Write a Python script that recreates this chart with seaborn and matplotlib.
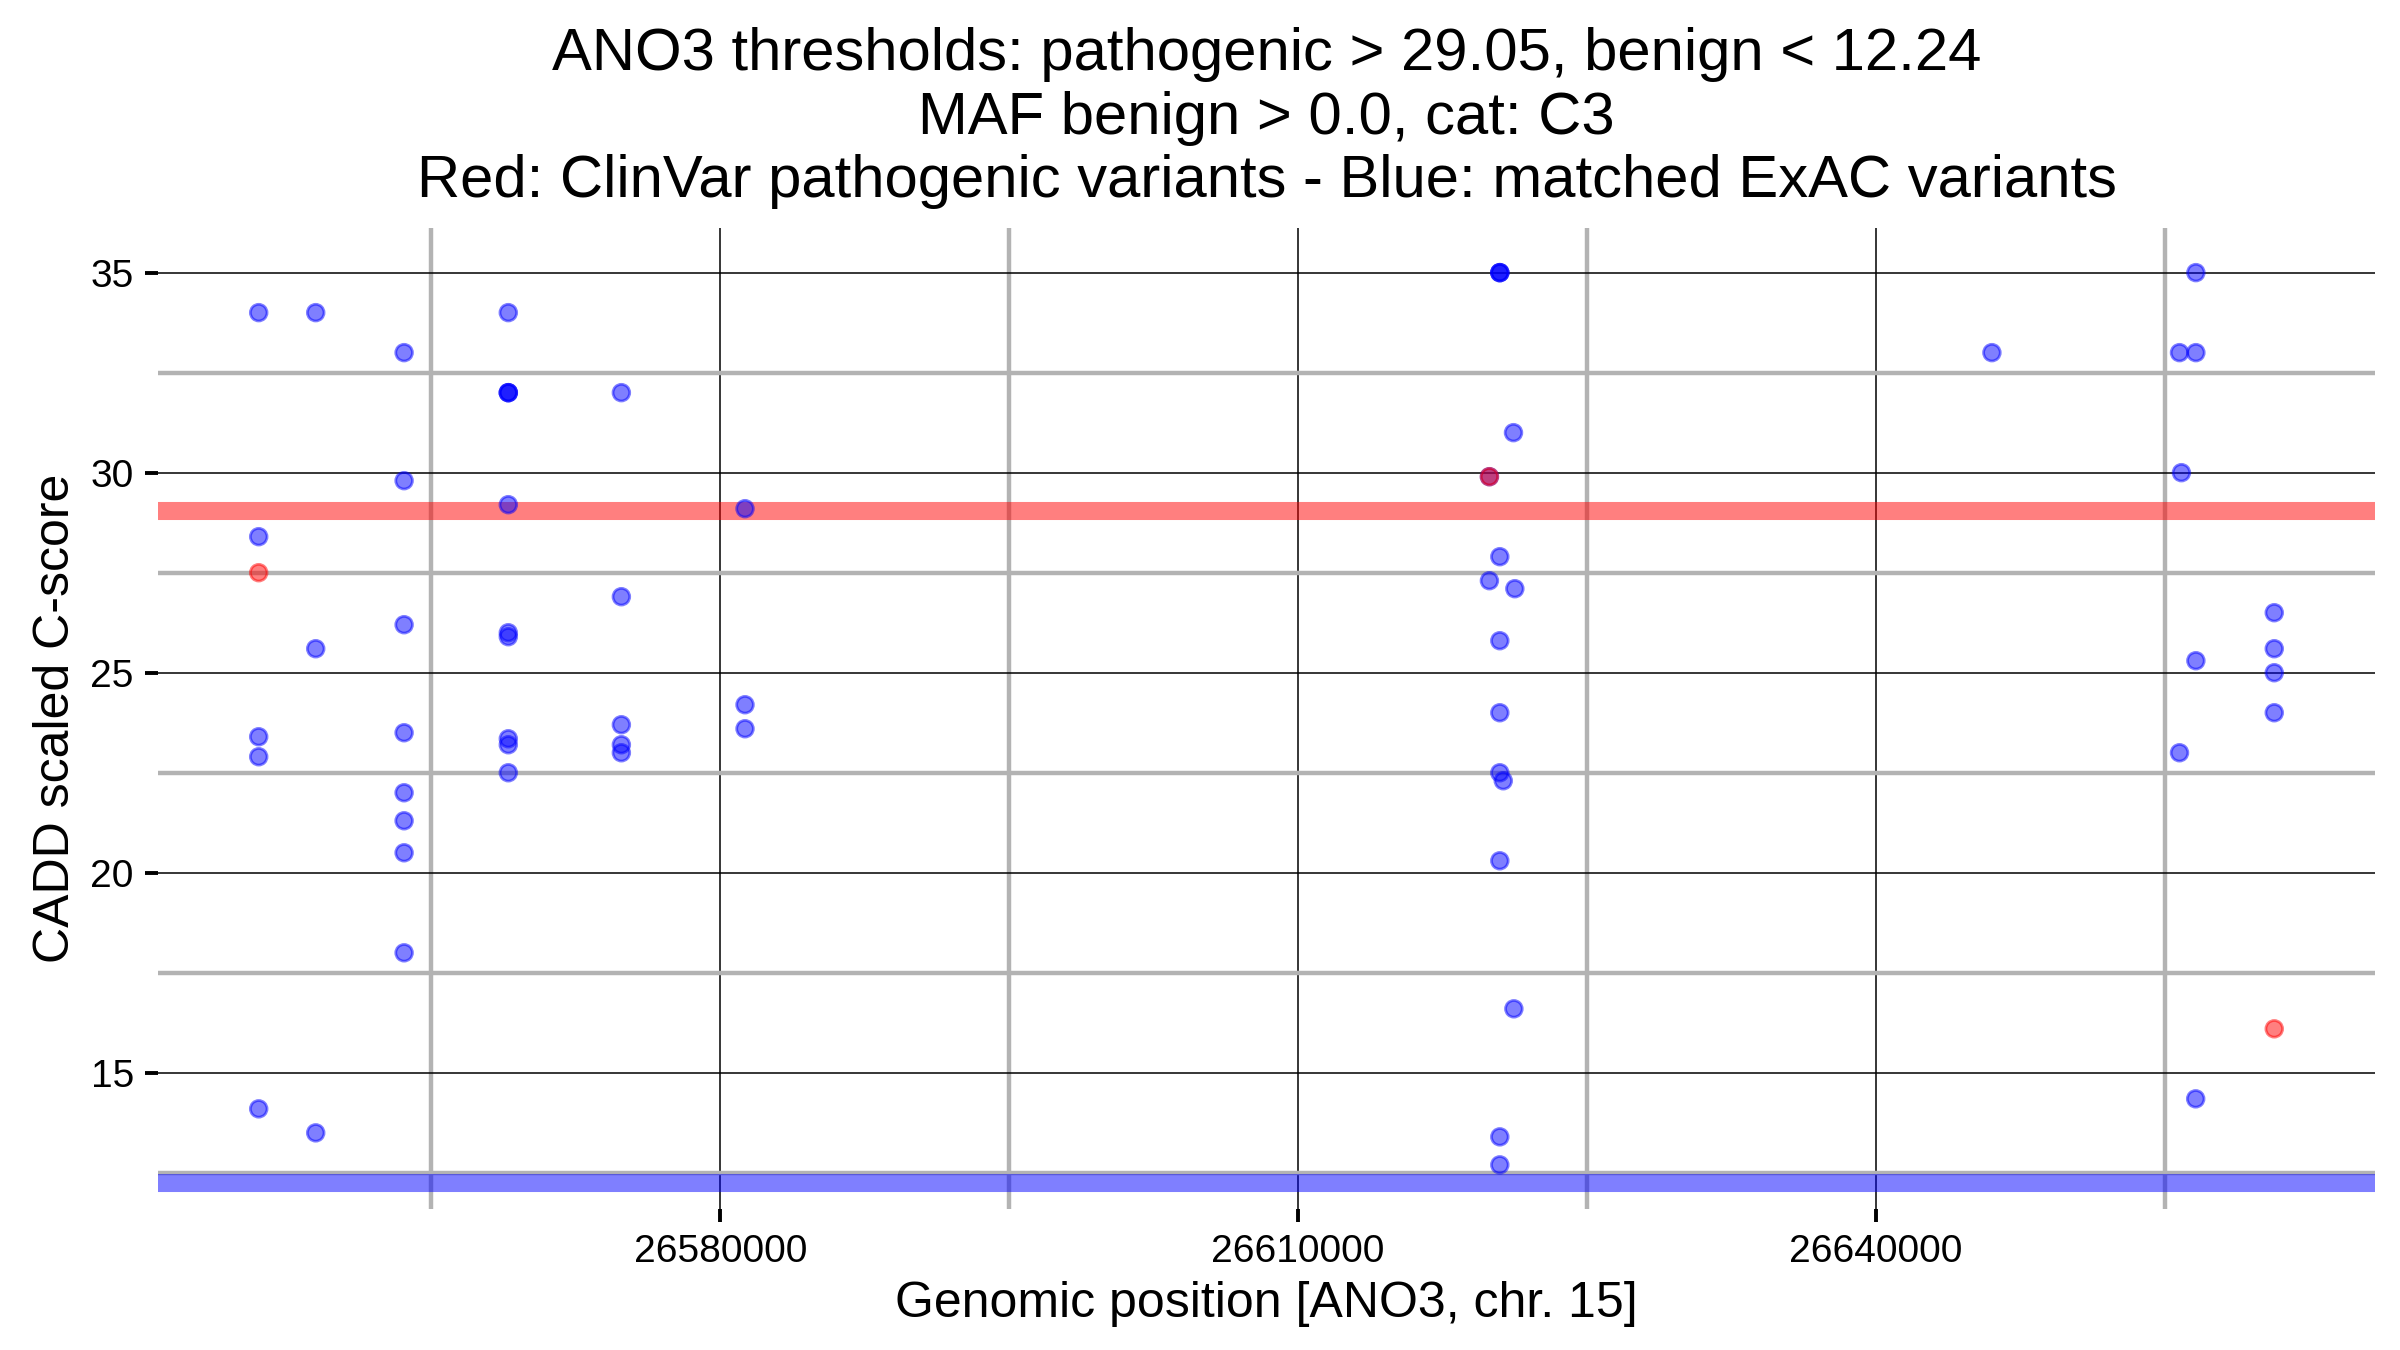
import pandas as pd
import seaborn as sns
import matplotlib.pyplot as plt
from matplotlib.ticker import MultipleLocator, AutoMinorLocator

sns.set_theme(style="white")
plt.rcParams["font.family"] = ["Liberation Sans", "DejaVu Sans"]
plt.rcParams["text.color"] = "black"
plt.rcParams["axes.labelcolor"] = "black"
plt.rcParams["xtick.color"] = "black"
plt.rcParams["ytick.color"] = "black"

gene = "ANO3"
chrom = "15"
path_thr = 29.05
benign_thr = 12.24

# matched ExAC variants (blue)
exac_pos = [
    26556030, 26556030, 26556030, 26556030, 26556030,
    26558990, 26558990, 26558990,
    26563580, 26563580, 26563580, 26563580, 26563580, 26563580, 26563580, 26563580,
    26568990, 26568990, 26568990, 26568990, 26568990, 26568990, 26568990, 26568990, 26568990, 26568990,
    26574860, 26574860, 26574860, 26574860, 26574860,
    26581280, 26581280, 26581280,
    26620470, 26620470, 26620470, 26621180, 26619930, 26620470, 26619930, 26621250,
    26620470, 26620470, 26620470, 26620650, 26620470, 26621200, 26620470, 26620470,
    26646020,
    26656610, 26656610, 26656610, 26656600,
    26655760, 26655760,
    26655860,
    26660680, 26660680, 26660680, 26660680,
]
exac_cadd = [
    34.0, 28.4, 23.4, 22.9, 14.1,
    34.0, 25.6, 13.5,
    33.0, 29.8, 26.2, 23.5, 22.0, 21.3, 20.5, 18.0,
    34.0, 32.0, 32.0, 32.0, 29.2, 26.0, 25.9, 23.35, 23.2, 22.5,
    32.0, 26.9, 23.7, 23.2, 23.0,
    29.1, 24.2, 23.6,
    35.0, 35.0, 35.0, 31.0, 29.9, 27.9, 27.3, 27.1,
    25.8, 24.0, 22.5, 22.3, 20.3, 16.6, 13.4, 12.7,
    33.0,
    35.0, 33.0, 25.3, 14.35,
    33.0, 23.0,
    30.0,
    26.5, 25.6, 25.0, 24.0,
]

# ClinVar pathogenic variants (red)
clinvar_pos = [26556030, 26619930, 26660680]
clinvar_cadd = [27.5, 29.9, 16.1]

df = pd.concat([
    pd.DataFrame({"pos": exac_pos, "cadd": exac_cadd, "source": "ExAC"}),
    pd.DataFrame({"pos": clinvar_pos, "cadd": clinvar_cadd, "source": "ClinVar"}),
], ignore_index=True)

fig, ax = plt.subplots(figsize=(12, 6.75), dpi=200)
fig.subplots_adjust(left=0.0658, right=0.9896, top=0.8311, bottom=0.1041)

sns.scatterplot(
    data=df, x="pos", y="cadd", hue="source",
    palette={"ExAC": "blue", "ClinVar": "red"},
    alpha=0.5, s=36, edgecolor="face", linewidth=1,
    legend=False, ax=ax, zorder=3,
)

ax.axhline(path_thr, color="red", alpha=0.5, lw=6.5, zorder=2)
ax.axhline(benign_thr, color="blue", alpha=0.5, lw=6.5, zorder=2)

ax.xaxis.set_major_locator(MultipleLocator(30000))
ax.xaxis.set_minor_locator(AutoMinorLocator(2))
ax.yaxis.set_major_locator(MultipleLocator(5))
ax.yaxis.set_minor_locator(AutoMinorLocator(2))
ax.ticklabel_format(axis="x", style="plain", useOffset=False)

ax.set_axisbelow(True)
ax.grid(which="major", color="black", lw=0.55)
ax.grid(which="minor", color="0.7", lw=1.6)
sns.despine(ax=ax, left=True, bottom=True)

ax.tick_params(which="major", direction="out", length=4.7, width=1.4,
               color="black", labelsize=14, pad=4, bottom=True, left=True)
ax.tick_params(which="minor", length=0)

ax.set_xlabel(f"Genomic position [{gene}, chr. {chrom}]", fontsize=18)
ax.set_ylabel("CADD scaled C-score", fontsize=18)
ax.set_title(
    f"{gene} thresholds: pathogenic > {path_thr}, benign < {benign_thr}\n"
    "MAF benign > 0.0, cat: C3\n"
    "Red: ClinVar pathogenic variants - Blue: matched ExAC variants",
    fontsize=21.5, pad=11,
)

fig.savefig("out.png", dpi=200)
